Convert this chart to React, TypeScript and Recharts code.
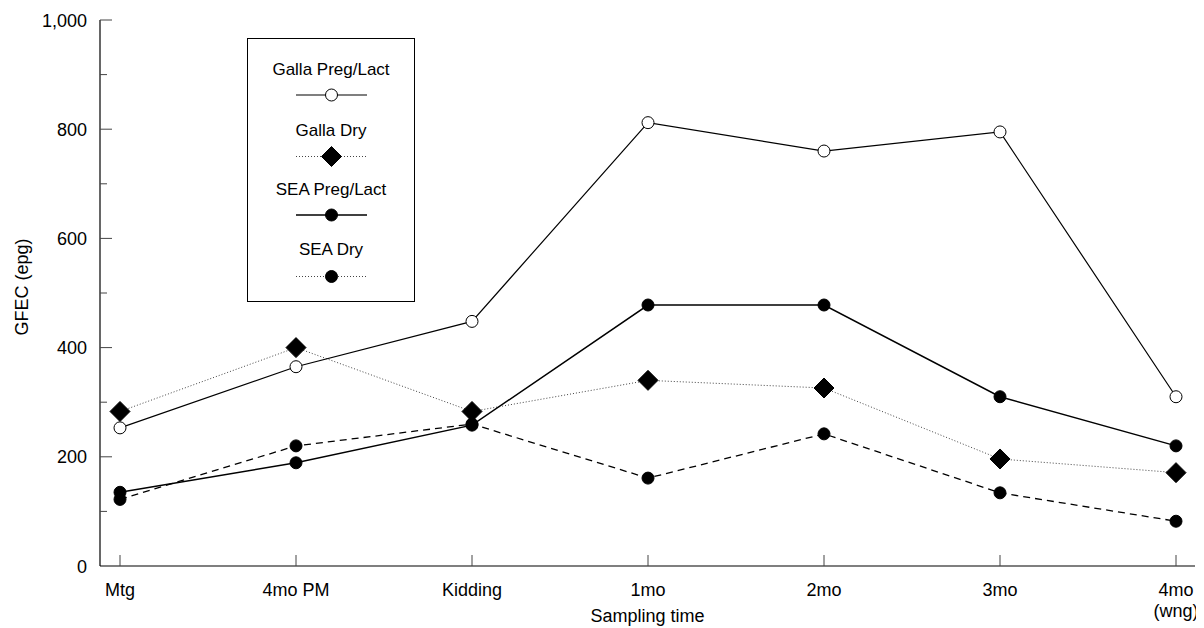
import React from 'react';
import { LineChart, Line, XAxis, YAxis, Legend } from 'recharts';

const categories = ['Mtg', '4mo PM', 'Kidding', '1mo', '2mo', '3mo', '4mo\n(wng)'];
const gallaPregLact = [253, 365, 448, 812, 760, 795, 310];
const gallaDry = [283, 400, 283, 340, 326, 196, 171];
const seaPregLact = [135, 189, 258, 478, 478, 310, 220];
const seaDry = [122, 220, 260, 161, 242, 134, 82];
const yTicks = [0, 100, 200, 300, 400, 500, 600, 700, 800, 900, 1000];
const yLabelTicks = [0, 200, 400, 600, 800, 1000];
const seriesNames = ['Galla Preg/Lact', 'Galla Dry', 'SEA Preg/Lact', 'SEA Dry'];

const data = categories.map((c, i) => ({
  cat: c,
  gpl: gallaPregLact[i],
  gd: gallaDry[i],
  spl: seaPregLact[i],
  sd: seaDry[i],
}));

const FONT = '"Liberation Sans", Arial, Helvetica, sans-serif';

const openCircle = (cx: number, cy: number, key?: any) => (
  <circle key={key} cx={cx} cy={cy} r={6} fill="#fff" stroke="#000" strokeWidth={1} />
);
const filledCircle = (cx: number, cy: number, key?: any) => (
  <circle key={key} cx={cx} cy={cy} r={6} fill="#000" stroke="#000" strokeWidth={1} />
);
const diamond = (cx: number, cy: number, key?: any) => (
  <polygon
    key={key}
    points={`${cx},${cy - 10} ${cx + 10},${cy} ${cx},${cy + 10} ${cx - 10},${cy}`}
    fill="#000"
    stroke="#000"
  />
);

const dotFn = (shape: (cx: number, cy: number, key?: any) => React.ReactElement) => (props: any) => {
  const { cx, cy, index } = props;
  return shape(cx, cy, `d-${index}`);
};

const YTick = (props: any) => {
  const { x, y, payload } = props;
  const v = payload.value;
  const major = yLabelTicks.includes(v);
  return (
    <g>
      {v !== 0 && v !== 1000 ? (
        <line x1={x} x2={x + (major ? 12 : 7)} y1={y} y2={y} stroke="#444" strokeWidth={1} />
      ) : v === 1000 ? (
        <line x1={x} x2={x + 12} y1={y} y2={y} stroke="#444" strokeWidth={1} />
      ) : null}
      {major && (
        <text x={x - 13} y={y + 6.5} textAnchor="end" fontSize={18} fontFamily={FONT} fill="#000">
          {v.toLocaleString('en-US')}
        </text>
      )}
    </g>
  );
};

const XTick = (props: any) => {
  const { x, y, payload } = props;
  const lines = String(payload.value).split('\n');
  return (
    <g>
      <line x1={x} x2={x} y1={y} y2={y - 11} stroke="#444" strokeWidth={1} />
      <text x={x} y={y + 30} textAnchor="middle" fontSize={18} fontFamily={FONT} fill="#000">
        {lines.map((l, i) => (
          <tspan key={i} x={x} dy={i === 0 ? 0 : 21}>
            {l}
          </tspan>
        ))}
      </text>
    </g>
  );
};

const legendBaselines = [37, 98, 157, 217];
const legendSampleY = [57, 118.5, 177, 238.5];
const legendStyles = [
  { dash: undefined, color: '#000', width: 1.2, shape: openCircle },
  { dash: '1 2', color: '#444', width: 1, shape: diamond },
  { dash: undefined, color: '#000', width: 1.5, shape: filledCircle },
  { dash: '1 2', color: '#444', width: 1, shape: filledCircle },
];

const LegendBox = () => (
  <svg width={169} height={265} style={{ display: 'block' }}>
    <rect x={0.5} y={0.5} width={167} height={263} fill="#fff" stroke="#000" strokeWidth={1} />
    {seriesNames.map((n, i) => (
      <g key={n}>
        <text x={84} y={legendBaselines[i]} textAnchor="middle" fontSize={17} fontFamily={FONT} fill="#000">
          {n}
        </text>
        <line
          x1={49}
          x2={120}
          y1={legendSampleY[i]}
          y2={legendSampleY[i]}
          stroke={legendStyles[i].color}
          strokeWidth={legendStyles[i].width}
          strokeDasharray={legendStyles[i].dash}
        />
        {legendStyles[i].shape(84.5, legendSampleY[i])}
      </g>
    ))}
  </svg>
);

export default function App() {
  return (
    <div style={{ width: 1196, height: 620, fontFamily: FONT }}>
      <LineChart
        width={1196}
        height={620}
        data={data}
        margin={{ top: 12, right: 9, bottom: 0, left: 0 }}
      >
        <XAxis
          dataKey="cat"
          height={62}
          padding={{ left: 20, right: 19 }}
          axisLine={{ stroke: '#000', strokeWidth: 1.2 }}
          tickLine={false}
          tickSize={0}
          tickMargin={0}
          interval={0}
          tick={<XTick />}
          label={{
            content: (p: any) => {
              const vb = p.viewBox || { x: 92, width: 1095 };
              return (
                <text x={vb.x + vb.width / 2} y={614} textAnchor="middle" fontSize={18} fontFamily={FONT} fill="#000">
                  Sampling time
                </text>
              );
            },
          }}
        />
        <YAxis
          width={92}
          domain={[0, 1000]}
          ticks={yTicks}
          interval={0}
          axisLine={{ stroke: '#000', strokeWidth: 1.2 }}
          tickLine={false}
          tickSize={0}
          tickMargin={0}
          tick={<YTick />}
          label={{
            content: () => (
              <text
                x={20}
                y={279}
                transform="rotate(-90, 20, 279)"
                textAnchor="middle"
                fontSize={18}
                fontFamily={FONT}
                fill="#000"
              >
                GFEC (epg)
              </text>
            ),
          }}
        />
        <Legend
          layout="vertical"
          align="center"
          verticalAlign="middle"
          content={() => <LegendBox />}
          wrapperStyle={{ position: 'absolute', left: 239, top: 30, width: 169, height: 265 }}
        />
        <Line
          type="linear"
          dataKey="gd"
          name="Galla Dry"
          stroke="#444"
          strokeWidth={1}
          strokeDasharray="1 2"
          dot={dotFn(diamond)}
          activeDot={false}
          isAnimationActive={false}
        />
        <Line
          type="linear"
          dataKey="sd"
          name="SEA Dry"
          stroke="#000"
          strokeWidth={1.3}
          strokeDasharray="7 5"
          dot={dotFn(filledCircle)}
          activeDot={false}
          isAnimationActive={false}
        />
        <Line
          type="linear"
          dataKey="spl"
          name="SEA Preg/Lact"
          stroke="#000"
          strokeWidth={1.5}
          dot={dotFn(filledCircle)}
          activeDot={false}
          isAnimationActive={false}
        />
        <Line
          type="linear"
          dataKey="gpl"
          name="Galla Preg/Lact"
          stroke="#000"
          strokeWidth={1.2}
          dot={dotFn(openCircle)}
          activeDot={false}
          isAnimationActive={false}
        />
      </LineChart>
    </div>
  );
}
